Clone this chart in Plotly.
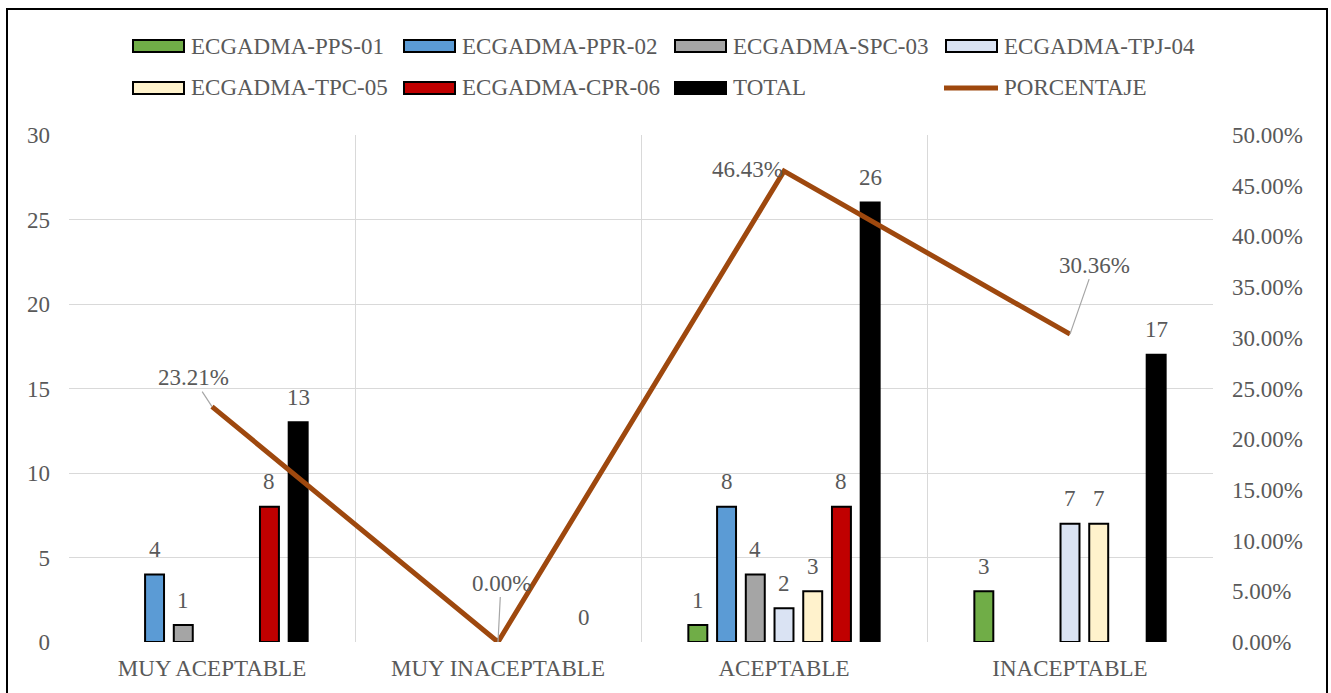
import plotly.graph_objects as go

categories = ["MUY ACEPTABLE", "MUY INACEPTABLE", "ACEPTABLE", "INACEPTABLE"]
series_names = ["ECGADMA-PPS-01", "ECGADMA-PPR-02", "ECGADMA-SPC-03", "ECGADMA-TPJ-04",
                "ECGADMA-TPC-05", "ECGADMA-CPR-06", "TOTAL"]
pps01 = [0, 0, 1, 3]
ppr02 = [4, 0, 8, 0]
spc03 = [1, 0, 4, 0]
tpj04 = [0, 0, 2, 7]
tpc05 = [0, 0, 3, 7]
cpr06 = [8, 0, 8, 0]
total = [13, 0, 26, 17]
porcentaje = [0.2321, 0.0, 0.4643, 0.3036]
line_name = "PORCENTAJE"

series_values = [pps01, ppr02, spc03, tpj04, tpc05, cpr06, total]
colors = ["#70AD47", "#5B9BD5", "#A5A5A5", "#DAE3F3", "#FFF2CC", "#C00000", "#000000"]

FONT = "Liberation Serif"
TXT = "#595959"
FS = 23

W, H = 1331, 693
L, R, T, B = 69, 1213, 135, 642
BARGAP = 0.297
BARGROUPGAP = 0.34


def px(x):
    return (x - L) / (R - L)


def py(y):
    return (B - y) / (B - T)


fig = go.Figure()
annotations = []
n_series = len(series_names)
slot = (1 - BARGAP) * ((R - L) / len(categories)) / n_series
for i, (name, vals, col) in enumerate(zip(series_names, series_values, colors)):
    lw = [2 if v != 0 else 0 for v in vals]
    fig.add_trace(go.Bar(
        x=categories, y=vals, name=name,
        marker=dict(color=col, line=dict(color="#000000", width=lw)),
        showlegend=False,
    ))
    # data labels above bars (zeros hidden, except TOTAL)
    for c, v in zip(categories, vals):
        if v == 0 and name != "TOTAL":
            continue
        annotations.append(dict(
            x=c, y=v, xref="x", yref="y", text=str(v), showarrow=False,
            xshift=(i - (n_series - 1) / 2) * slot, yshift=25,
            yanchor="middle", font=dict(family=FONT, size=FS, color=TXT)))

fig.add_trace(go.Scatter(
    x=categories, y=porcentaje, name=line_name, yaxis="y2", mode="lines",
    line=dict(color="#9E480E", width=5), showlegend=False,
))

# line data labels
offsets = [(-19, -29, True), (3, -59, True), (-37, 2, False), (24, -69, True)]
for c, p, (dx, dy, arrow) in zip(categories, porcentaje, offsets):
    a = dict(x=c, y=p, xref="x", yref="y2", text=f"{p*100:.2f}%",
             font=dict(family=FONT, size=FS, color=TXT))
    if arrow:
        a.update(showarrow=True, ax=dx, ay=dy, arrowhead=0, arrowwidth=1.2,
                 arrowcolor="#A6A6A6", standoff=0)
    else:
        a.update(showarrow=False, xshift=dx, yshift=dy)
    annotations.append(a)

# custom legend
shapes = []
legend_items = list(zip(series_names, colors)) + [(line_name, None)]
col_x = [133, 404, 675, 946]
row_y = [46, 88]
for i, (name, col) in enumerate(legend_items):
    x0 = col_x[i % 4]
    y = row_y[i // 4]
    if col is not None:
        shapes.append(dict(type="rect", xref="paper", yref="paper",
                           x0=px(x0), x1=px(x0 + 51), y0=py(y + 6), y1=py(y - 6),
                           fillcolor=col, line=dict(color="#000000", width=2)))
    else:
        shapes.append(dict(type="line", xref="paper", yref="paper",
                           x0=px(x0 - 2), x1=px(x0 + 52), y0=py(y), y1=py(y),
                           line=dict(color="#9E480E", width=5)))
    tx = x0 + 56
    annotations.append(dict(x=px(tx), y=py(y), xref="paper", yref="paper",
                            xanchor="left", yanchor="middle", showarrow=False,
                            text=name, font=dict(family=FONT, size=FS, color=TXT)))

# outer border
shapes.append(dict(type="rect", xref="paper", yref="paper",
                   x0=px(7), x1=px(1327), y0=py(700), y1=py(9),
                   line=dict(color="#000000", width=2), fillcolor="rgba(0,0,0,0)"))

fig.update_layout(
    width=W, height=H,
    margin=dict(l=L, r=W - R, t=T, b=H - B),
    paper_bgcolor="white", plot_bgcolor="white",
    barmode="group", bargap=BARGAP, bargroupgap=BARGROUPGAP,
    font=dict(family=FONT, size=FS, color=TXT),
    showlegend=False,
    xaxis=dict(type="category", tickson="boundaries", showgrid=True,
               gridcolor="#D9D9D9", gridwidth=1.3, ticks="", showline=False,
               zeroline=False, tickfont=dict(family=FONT, size=FS, color=TXT),
               ticklabelstandoff=10),
    yaxis=dict(range=[0, 30], dtick=5, showgrid=True, gridcolor="#D9D9D9",
               gridwidth=1.3, zeroline=False, ticks="", showline=False,
               tickfont=dict(family=FONT, size=FS, color=TXT),
               ticklabelstandoff=18),
    yaxis2=dict(range=[0, 0.5], dtick=0.05, tickformat=".2%", overlaying="y",
                side="right", showgrid=False, zeroline=False, ticks="",
                showline=False, tickfont=dict(family=FONT, size=FS, color=TXT),
                ticklabelstandoff=18),
    shapes=shapes,
    annotations=annotations,
)

fig.write_html("out.html")
